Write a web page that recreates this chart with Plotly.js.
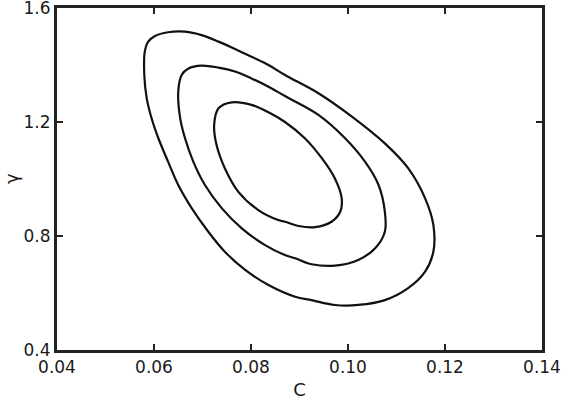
<!DOCTYPE html>
<html>
<head>
<meta charset="utf-8">
<script src="https://cdn.plot.ly/plotly-3.0.1.min.js"></script>
<style>html,body{margin:0;padding:0;background:#fff;}#chart{width:562px;height:400px;}</style>
</head>
<body>
<div id="chart"></div>
<script>
// Outer contour (C, gamma)
const outerC = [0.0664,0.0698,0.0733,0.0767,0.0801,0.0836,0.0870,0.0939,0.1008,0.1076,0.1124,0.1159,0.1176,0.1176,0.1159,0.1124,0.1076,0.1021,0.0973,0.0925,0.0891,0.0836,0.0788,0.0746,0.0712,0.0678,0.0650,0.0629,0.0609,0.0595,0.0585,0.0580,0.0581,0.0588,0.0602,0.0629,0.0664];
const outerG = [1.517,1.505,1.482,1.456,1.429,1.400,1.365,1.301,1.219,1.125,1.038,0.932,0.839,0.745,0.675,0.617,0.575,0.558,0.558,0.575,0.587,0.628,0.681,0.745,0.815,0.897,0.979,1.061,1.143,1.213,1.283,1.365,1.447,1.482,1.502,1.515,1.517];
// Middle contour
const middleC = [0.0698,0.0733,0.0767,0.0801,0.0836,0.0870,0.0939,0.0994,0.1035,0.1063,0.1076,0.1076,0.1056,0.1021,0.0973,0.0925,0.0891,0.0870,0.0829,0.0781,0.0740,0.0705,0.0681,0.0664,0.0654,0.0650,0.0657,0.0671,0.0698];
const middleG = [1.398,1.391,1.377,1.353,1.324,1.291,1.225,1.143,1.061,0.979,0.885,0.815,0.757,0.716,0.696,0.701,0.722,0.733,0.768,0.827,0.897,0.979,1.061,1.143,1.213,1.306,1.365,1.388,1.398];
// Inner contour
const innerC = [0.0760,0.0801,0.0836,0.0870,0.0911,0.0946,0.0973,0.0987,0.0984,0.0966,0.0932,0.0898,0.0870,0.0856,0.0815,0.0774,0.0746,0.0729,0.0724,0.0733,0.0760];
const innerG = [1.269,1.260,1.234,1.200,1.143,1.073,1.002,0.932,0.885,0.850,0.831,0.835,0.850,0.856,0.891,0.955,1.038,1.119,1.189,1.248,1.269];

const xTicks = [0.04,0.06,0.08,0.10,0.12,0.14];
const xTickText = ["0.04","0.06","0.08","0.10","0.12","0.14"];
const yTicks = [0.4,0.8,1.2,1.6];
const yTickText = ["0.4","0.8","1.2","1.6"];

const lineStyle = {color:'#111', width:2.2, shape:'spline', smoothing:1};
const traces = [
  {x: outerC, y: outerG, mode:'lines', line: lineStyle, hoverinfo:'skip'},
  {x: middleC, y: middleG, mode:'lines', line: lineStyle, hoverinfo:'skip'},
  {x: innerC, y: innerG, mode:'lines', line: lineStyle, hoverinfo:'skip'}
];
const font = {family:'DejaVu Sans', size:17, color:'#1a1a1a'};
const layout = {
  width:562, height:400,
  margin:{l:57, r:20, t:8, b:50, pad:0},
  paper_bgcolor:'#fff', plot_bgcolor:'#fff',
  showlegend:false,
  font: font,
  xaxis:{
    range:[0.04,0.14], tickvals:xTicks, ticktext:xTickText,
    showgrid:false, zeroline:false,
    showline:true, linewidth:3, linecolor:'#222', mirror:'ticks',
    ticks:'inside', ticklen:6, tickwidth:1.5, tickcolor:'#222',
    tickfont:font, ticklabeloverflow:'allow',
    title:{text:'C', font:{family:'DejaVu Sans', size:18, color:'#1a1a1a'}, standoff:8}
  },
  yaxis:{
    range:[0.4,1.6], tickvals:yTicks, ticktext:yTickText,
    showgrid:false, zeroline:false,
    showline:true, linewidth:3, linecolor:'#222', mirror:'ticks',
    ticks:'inside', ticklen:6, tickwidth:1.5, tickcolor:'#222',
    tickfont:font, ticklabeloverflow:'allow'
  },
  annotations:[{
    text:'γ', xref:'paper', yref:'paper', x:0, y:0.5, xshift:-46,
    xanchor:'center', yanchor:'middle', textangle:-90, showarrow:false,
    font:{family:'DejaVu Sans', size:18, color:'#1a1a1a'}
  }]
};
Plotly.newPlot('chart', traces, layout, {staticPlot:true, displayModeBar:false});
</script>
</body>
</html>
